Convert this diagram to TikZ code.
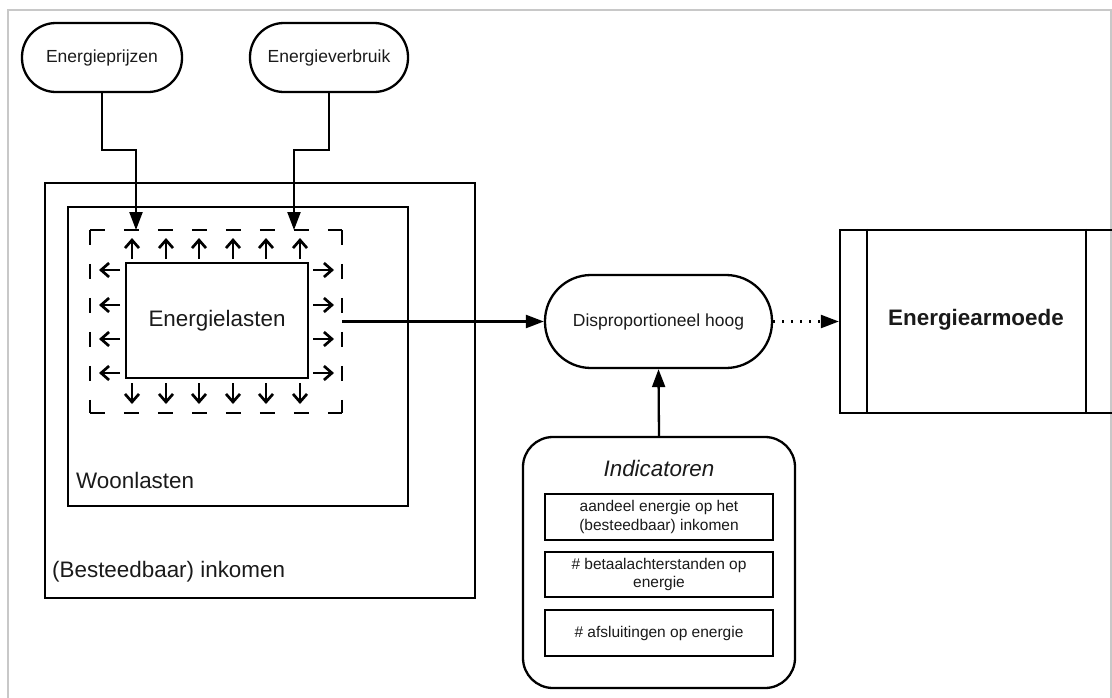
\documentclass[tikz,border=0pt]{standalone}
\usepackage{fontspec}
\setmainfont{Liberation Sans}
\usetikzlibrary{arrows.meta}
\newcommand{\fsL}{\fontsize{22.4}{27}\selectfont}
\newcommand{\fsM}{\fontsize{17.5}{21}\selectfont}
\newcommand{\fsS}{\fontsize{15.5}{18.5}\selectfont}
\definecolor{txt}{HTML}{1A1A1A}
\definecolor{framegray}{HTML}{C8C8C8}
\tikzset{
  pill/.style={draw, line width=2.3pt, rounded corners=34pt, minimum width=160pt, minimum height=69pt, inner sep=0pt, font=\fsM, text=txt},
  plainbox/.style={draw, line width=2.3pt, inner sep=0pt},
  conn/.style={line width=2.3pt, -{Triangle[length=18pt,width=13pt]}},
  dotconn/.style={line width=2.3pt, dash pattern=on 2pt off 7pt, -{Triangle[length=18pt,width=13pt,sep=0pt]}},
  smallarr/.style={line width=2.7pt, -{Straight Barb[length=8pt,width=14pt]}},
  dashside/.style={line width=2.3pt, dash pattern=on 15pt off 19pt},
  lbl/.style={inner sep=0pt, font=\fsL, text=txt},
}
\begin{document}
\begin{tikzpicture}[x=1pt,y=-1pt]
\useasboundingbox (0,0) rectangle (1112,697);
% light frame
\draw[framegray, line width=1.5pt] (8,720) -- (8,10) -- (1111,10) -- (1111,720);

% top pills
\node[pill] (prijs) at (102,57.5) {Energieprijzen};
\node[pill, minimum width=158pt] (verbr) at (329,57.5) {Energieverbruik};

% nested boxes
\node[plainbox, minimum width=430pt, minimum height=415pt] (inkomen) at (260,390.5) {};
\node[plainbox, minimum width=340pt, minimum height=299pt] (woon) at (238,356.5) {};
\node[lbl, anchor=west] (woonlbl) at (76,480) {Woonlasten};
\node[lbl, anchor=west] (inklbl) at (52,572) {(Besteedbaar) inkomen};

% dashed area
\node[minimum width=252pt, minimum height=183pt, inner sep=0pt] (dash) at (216,321.5) {};
\draw[dashside] (dash.north west) -- (dash.north east);
\draw[dashside] (dash.south west) -- (dash.south east);
\draw[dashside] (dash.north west) -- (dash.south west);
\draw[dashside] (dash.north east) -- (dash.south east);

\node[plainbox, minimum width=182pt, minimum height=115pt, font=\fsL, text=txt] (el) at (217,320.5) {Energielasten};

% small arrows
\foreach \x in {132,166,199,233,266,300} {
  \draw[smallarr] (\x,259) -- (\x,238);
  \draw[smallarr] (\x,383) -- (\x,404);
}
\foreach \y in {270,305,339,373} {
  \draw[smallarr] (120,\y) -- (99,\y);
  \draw[smallarr] (313,\y) -- (334,\y);
}

% inputs
\coordinate (t1) at (136,230);
\coordinate (t2) at (294,230);
\draw[conn] (prijs.south) -- (102,150) -| (t1);
\draw[conn] (verbr.south) -- (329,150) -| (t2);

% Disproportioneel hoog
\node[pill, minimum width=227pt, minimum height=93pt, rounded corners=46pt] (dis) at (658.5,321.5) {Disproportioneel hoog};
\draw[conn] (dash.east) -- (dis.west);

% Energiearmoede
\node[plainbox, minimum width=273pt, minimum height=183pt] (ea) at (976.5,321.5) {};
\node[inner sep=0pt, font=\fsL\bfseries, text=txt] (ealbl) at (976,320) {Energiearmoede};
\draw[line width=2.3pt] ([xshift=28pt]ea.north west) -- ([xshift=28pt]ea.south west);
\draw[line width=2.3pt] ([xshift=-28pt]ea.north east) -- ([xshift=-28pt]ea.south east);
\draw[dotconn] (dis.east) -- (ea.west);

% Indicatoren
\node[draw, line width=2.3pt, rounded corners=30pt, minimum width=272pt, minimum height=251pt, inner sep=0pt] (ind) at (659,562.5) {};
\node[inner sep=0pt, font=\fsL\itshape, text=txt] (indt) at (659,468) {Indicatoren};
\node[plainbox, minimum width=228pt, minimum height=46pt, font=\fsS, text=txt, align=center] (b1) at (659,517) {aandeel energie op het\\(besteedbaar) inkomen};
\node[plainbox, minimum width=228pt, minimum height=45pt, font=\fsS, text=txt, align=center] (b2) at (659,574.5) {\# betaalachterstanden op\\energie};
\node[plainbox, minimum width=228pt, minimum height=46pt, font=\fsS, text=txt, align=center] (b3) at (659,633) {\# afsluitingen op energie};
\draw[conn] (ind.north) -- (dis.south);
\end{tikzpicture}
\end{document}
